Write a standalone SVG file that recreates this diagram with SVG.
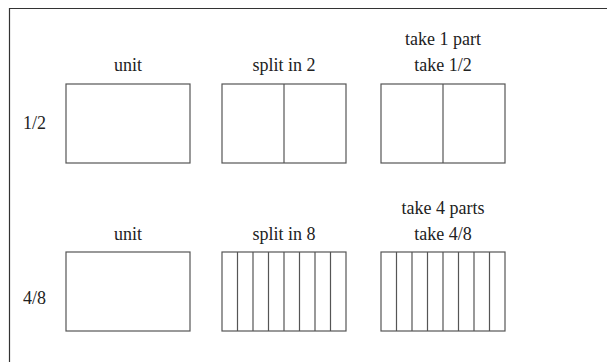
<svg xmlns="http://www.w3.org/2000/svg" width="607" height="362" viewBox="0 0 607 362">
  <style>
    .box { fill: #fff; stroke: #555; stroke-width: 1.2; }
    .div { stroke: #555; stroke-width: 1.2; }
    .lbl { font-family: "Liberation Serif", "Times New Roman", serif; font-size: 18px; fill: #222; text-anchor: middle; }
    .row { font-family: "Liberation Serif", "Times New Roman", serif; font-size: 18px; fill: #222; }
  </style>
  <rect width="607" height="362" fill="#fff"/>
  <!-- outer frame -->
  <path d="M9.5,370 V8.5 H620" fill="none" stroke="#333" stroke-width="1.2"/>

  <!-- row 1: one half -->
  <text class="row" x="23" y="129">1/2</text>
  <g id="unit-half">
    <text class="lbl" x="128" y="71">unit</text>
    <rect class="box" x="66" y="84" width="124" height="79"/>
  </g>
  <g id="split-2">
    <text class="lbl" x="284" y="71">split in 2</text>
    <rect class="box" x="222" y="84" width="124" height="79"/>
    <line class="div" x1="284" y1="84" x2="284" y2="163"/>
  </g>
  <g id="take-1-2">
    <text class="lbl" x="443" y="45">take 1 part</text>
    <text class="lbl" x="443" y="71">take 1/2</text>
    <rect class="box" x="381" y="84" width="124" height="79"/>
    <line class="div" x1="443" y1="84" x2="443" y2="163"/>
  </g>

  <!-- row 2: four eighths -->
  <text class="row" x="23" y="304">4/8</text>
  <g id="unit-eighths">
    <text class="lbl" x="128" y="240">unit</text>
    <rect class="box" x="66" y="252" width="124" height="79"/>
  </g>
  <g id="split-8">
    <text class="lbl" x="284" y="240">split in 8</text>
    <rect class="box" x="222" y="252" width="124" height="79"/>
    <path class="div" d="M237.5,252 V331 M253,252 V331 M268.5,252 V331 M284,252 V331 M299.5,252 V331 M315,252 V331 M330.5,252 V331"/>
  </g>
  <g id="take-4-8">
    <text class="lbl" x="443" y="214">take 4 parts</text>
    <text class="lbl" x="443" y="240">take 4/8</text>
    <rect class="box" x="381" y="252" width="124" height="79"/>
    <path class="div" d="M396.5,252 V331 M412,252 V331 M427.5,252 V331 M443,252 V331 M458.5,252 V331 M474,252 V331 M489.5,252 V331"/>
  </g>
</svg>
